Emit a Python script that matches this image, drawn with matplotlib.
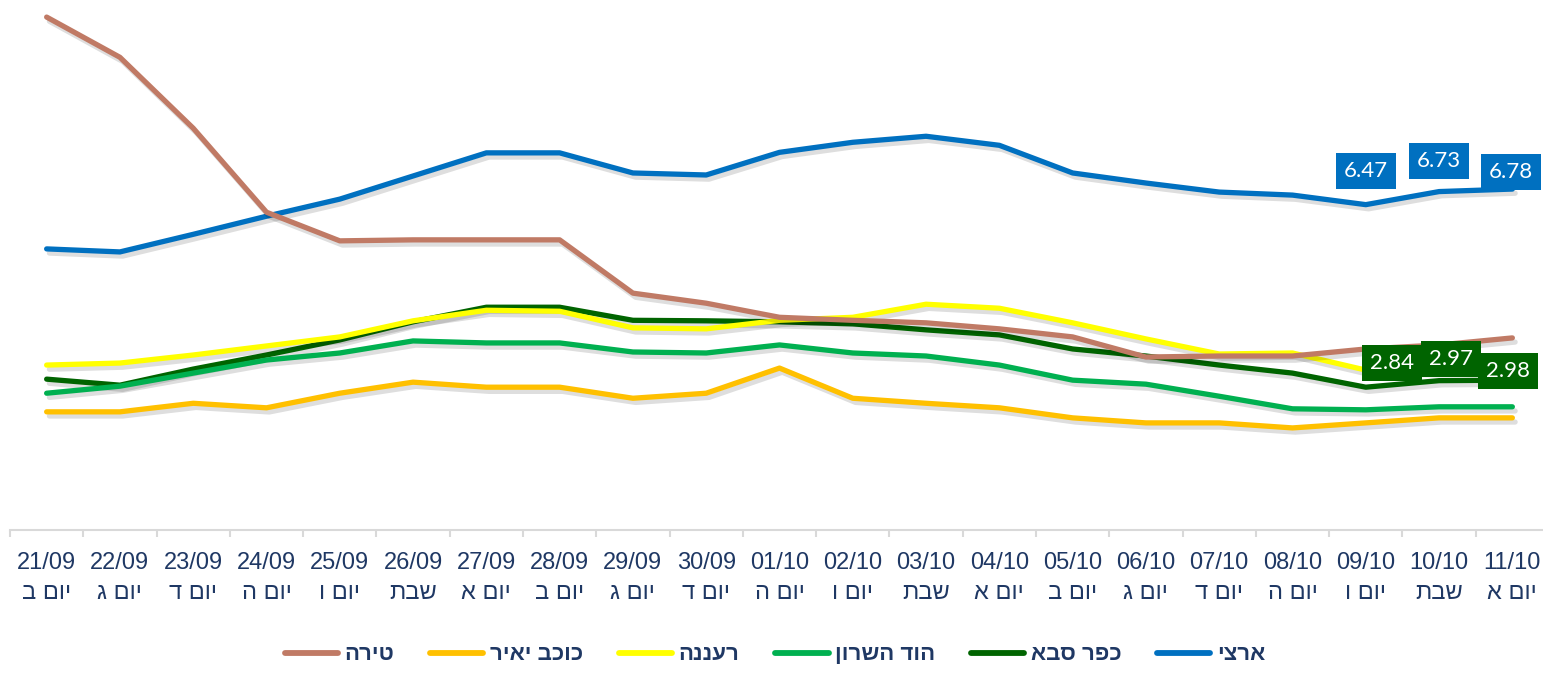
import matplotlib
matplotlib.use('Agg')
import matplotlib.pyplot as plt
import matplotlib.patheffects as pe
from matplotlib.lines import Line2D

# ---------------- data ----------------
dates = ["21/09", "22/09", "23/09", "24/09", "25/09", "26/09", "27/09", "28/09",
         "29/09", "30/09", "01/10", "02/10", "03/10", "04/10", "05/10", "06/10",
         "07/10", "08/10", "09/10", "10/10", "11/10"]
days = ["יום ב", "יום ג", "יום ד", "יום ה", "יום ו", "שבת", "יום א", "יום ב",
        "יום ג", "יום ד", "יום ה", "יום ו", "שבת", "יום א", "יום ב", "יום ג",
        "יום ד", "יום ה", "יום ו", "שבת", "יום א"]

arzi = [5.59, 5.53, 5.88, 6.24, 6.58, 7.04, 7.50, 7.50, 7.10, 7.06, 7.51,
        7.71, 7.83, 7.65, 7.10, 6.90, 6.72, 6.66, 6.47, 6.73, 6.78]
kfar_saba = [3.00, 2.88, 3.20, 3.48, 3.78, 4.14, 4.43, 4.43, 4.17, 4.16, 4.14,
             4.10, 3.98, 3.88, 3.60, 3.46, 3.28, 3.12, 2.84, 2.97, 2.98]
hod_hasharon = [2.72, 2.86, 3.12, 3.38, 3.52, 3.76, 3.72, 3.72, 3.54, 3.52, 3.68,
                3.52, 3.46, 3.28, 2.98, 2.90, 2.66, 2.41, 2.39, 2.45, 2.45]
raanana = [3.28, 3.32, 3.48, 3.66, 3.84, 4.16, 4.37, 4.35, 4.02, 4.00, 4.17,
           4.23, 4.49, 4.41, 4.12, 3.80, 3.50, 3.52, 3.18, 3.17, 3.20]
kochav_yair = [2.35, 2.35, 2.52, 2.43, 2.72, 2.94, 2.84, 2.84, 2.62, 2.72, 3.22,
               2.62, 2.52, 2.43, 2.23, 2.13, 2.13, 2.03, 2.13, 2.23, 2.23]
tira = [10.20, 9.40, 7.99, 6.32, 5.75, 5.77, 5.77, 5.77, 4.71, 4.51, 4.23,
        4.17, 4.12, 4.00, 3.84, 3.44, 3.46, 3.46, 3.60, 3.68, 3.82]

series_names = ["ארצי", "כפר סבא", "הוד השרון", "רעננה", "כוכב יאיר", "טירה"]
series_values = [arzi, kfar_saba, hod_hasharon, raanana, kochav_yair, tira]
series_colors = ["#0070C0", "#006400", "#00B050", "#FFFF00", "#FFC000", "#C07A65"]

labeled_points = [18, 19, 20]   # data labels on the last three days
arzi_label_offsets = [(0, 34), (0, 31), (-1, 17)]
ks_label_offsets = [(26, 24), (12, 22), (-4, 9)]

TEXT = "#1F3864"


def vis(s):
    """Visual (right-to-left) order for Hebrew text."""
    return s[::-1]


plt.rcParams['font.family'] = ['Liberation Sans', 'DejaVu Sans']

W, H = 1543, 674
fig = plt.figure(figsize=(W / 100, H / 100), dpi=100)
ax = fig.add_axes([10 / W, 144 / H, 1539 / W, 528 / H])

x = list(range(len(dates)))
shadow = [pe.SimpleLineShadow(offset=(2, -3), shadow_color='black', alpha=0.13),
          pe.Normal()]

handles = {}
for name, vals, col in zip(series_names, series_values, series_colors):
    ln, = ax.plot(x, vals, color=col, lw=3.8, solid_capstyle='round',
                  solid_joinstyle='round', clip_on=False, path_effects=shadow)
    handles[name] = ln

# data labels
for idx, (dx, dy) in zip(labeled_points, arzi_label_offsets):
    ax.annotate(f"{arzi[idx]:.2f}", (idx, arzi[idx]), xytext=(dx, dy),
                textcoords='offset pixels', ha='center', va='center',
                fontsize=16, color='white', family=['Lato', 'DejaVu Sans'],
                bbox=dict(boxstyle='square,pad=0.36', fc=series_colors[0], ec='none'),
                zorder=10)
for idx, (dx, dy) in zip(labeled_points, ks_label_offsets):
    ax.annotate(f"{kfar_saba[idx]:.2f}", (idx, kfar_saba[idx]), xytext=(dx, dy),
                textcoords='offset pixels', ha='center', va='center',
                fontsize=16, color='white', family=['Lato', 'DejaVu Sans'],
                bbox=dict(boxstyle='square,pad=0.36', fc=series_colors[1], ec='none'),
                zorder=10)

ax.set_xlim(-0.5, len(dates) - 0.5)
ax.set_ylim(0, 10.5)

for s in ['top', 'right', 'left']:
    ax.spines[s].set_visible(False)
ax.spines['bottom'].set_color('#D9D9D9')
ax.spines['bottom'].set_linewidth(1.5)
ax.set_yticks([])

ax.set_xticks(x)
ax.set_xticklabels([f"{d}\n{vis(dy)}" for d, dy in zip(dates, days)],
                   fontsize=17, color=TEXT, linespacing=1.45)
ax.tick_params(axis='x', which='major', length=0, pad=16)
ax.set_xticks([i - 0.5 for i in range(len(dates) + 1)], minor=True)
ax.tick_params(axis='x', which='minor', length=5, width=1.5, color='#D9D9D9')

legend_order = ["טירה", "כוכב יאיר", "רעננה", "הוד השרון", "כפר סבא", "ארצי"]
leg_handles = [Line2D([0], [0], color=handles[n].get_color(), lw=4.2,
                      solid_capstyle='round') for n in legend_order]
leg = fig.legend(leg_handles, [vis(n) for n in legend_order], loc='center',
                 bbox_to_anchor=(775 / W, 1 - 655 / H), ncol=6, frameon=False,
                 prop={'size': 16, 'weight': 'bold'}, handlelength=2.4,
                 handletextpad=0.3, columnspacing=1.6)
for t in leg.get_texts():
    t.set_color(TEXT)

fig.savefig("out.png", dpi=100)
